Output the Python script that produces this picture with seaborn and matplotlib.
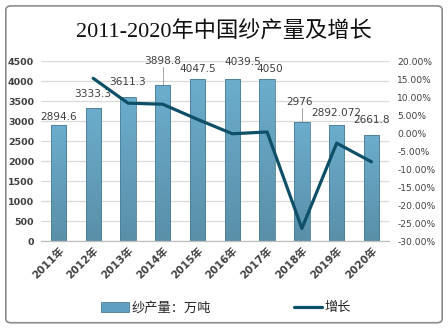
import numpy as np
import pandas as pd
import matplotlib
matplotlib.use("Agg")
import matplotlib.pyplot as plt
import seaborn as sns
from matplotlib.patches import FancyBboxPatch, Patch
from matplotlib.lines import Line2D
from matplotlib.colors import LinearSegmentedColormap
from matplotlib.ticker import FuncFormatter, MultipleLocator

years = ["2011年", "2012年", "2013年", "2014年", "2015年", "2016年", "2017年", "2018年", "2019年", "2020年"]
output = [2894.6, 3333.3, 3611.3, 3898.8, 4047.5, 4039.5, 4050, 2976, 2892.072, 2661.8]
output_labels = ["2894.6", "3333.3", "3611.3", "3898.8", "4047.5", "4039.5", "4050", "2976", "2892.072", "2661.8"]
growth_years = ["2012年", "2013年", "2014年", "2015年", "2016年", "2017年", "2018年", "2019年", "2020年"]
growth = [0.152, 0.083, 0.080, 0.038, -0.002, 0.003, -0.265, -0.028, -0.080]

title = "2011-2020年中国纱产量及增长"
bar_name = "纱产量：万吨"
line_name = "增长"

sns.set_theme(style="white")
plt.rcParams["font.family"] = ["DejaVu Sans", "Noto Sans CJK SC"]

fig = plt.figure(figsize=(4.48, 3.28), dpi=100)
fig.patch.set_facecolor("white")
ax = fig.add_axes([0.0915, 0.265, 0.7765, 0.549])

df = pd.DataFrame({"year": years, "output": output})
sns.barplot(data=df, x="year", y="output", ax=ax, color="#5f9fbf", width=0.44,
            edgecolor="#4a7f96", linewidth=0.6, zorder=2)

ax.set_ylim(0, 4500)
ax.set_xlim(-0.5, 9.5)

# vertical gradient fill for the bars
cmap = LinearSegmentedColormap.from_list("g", ["#5a8fa8", "#6cadcd"])
grad = np.linspace(0, 1, 64).reshape(-1, 1)
for bar in list(ax.patches):
    x0, y0 = bar.get_x(), bar.get_y()
    w, h = bar.get_width(), bar.get_height()
    im = ax.imshow(grad, extent=[x0, x0 + w, y0, y0 + h], origin="lower",
                   aspect="auto", cmap=cmap, zorder=2.1)
    im.set_clip_path(bar)
    bar.set_facecolor("none")
    bar.set_zorder(2.2)
ax.set_ylim(0, 4500)
ax.set_xlim(-0.5, 9.5)
ax.set_aspect("auto")

ax.yaxis.set_major_locator(MultipleLocator(500))
ax.grid(axis="y", color="#d9d9d9", linewidth=0.9, zorder=0)
ax.set_axisbelow(True)
for s in ["left", "right", "top"]:
    ax.spines[s].set_visible(False)
ax.spines["bottom"].set_color("#bfbfbf")
ax.spines["bottom"].set_linewidth(0.9)
ax.set_xlabel("")
ax.set_ylabel("")
ax.tick_params(axis="y", length=0, labelsize=6.8, labelcolor="#404040", pad=5)
ax.tick_params(axis="x", length=0, labelsize=7.6, labelcolor="#404040", pad=3)
for t in ax.get_yticklabels():
    t.set_fontweight("bold")
ax.set_xticks(range(len(years)))
ax.set_xticklabels(years, rotation=45, ha="right", rotation_mode="anchor", fontweight="bold")

# data labels (offsets in px: dx, dy above bar top)
offsets = [(0, 3), (0, 9), (0, 10), (0, 19), (0, 5), (10, 12), (3, 5), (-2, 15), (0, 7), (0, 10)]
for i, (v, lab) in enumerate(zip(output, output_labels)):
    dx, dy = offsets[i]
    ax.annotate(lab, (i, v), xytext=(dx, dy), textcoords="offset pixels",
                ha="center", va="bottom", fontsize=7.6, color="#404040", zorder=5)
    if dy > 14:
        ax.plot([i, i], [v, v + (dy - 1) * 4500 / 180], color="#a6a6a6", linewidth=0.7, zorder=1.5)

ax2 = ax.twinx()
sns.lineplot(x=growth_years, y=growth, ax=ax2, color="#0f5068", linewidth=2.3, zorder=3, sort=False)
ax2.set_ylim(-0.30, 0.20)
ax2.yaxis.set_major_locator(MultipleLocator(0.05))
ax2.yaxis.set_major_formatter(FuncFormatter(lambda v, p: f"{v*100:.2f}%"))
ax2.tick_params(axis="y", length=0, labelsize=6.6, labelcolor="#404040", pad=6)
for s in ["left", "right", "top", "bottom"]:
    ax2.spines[s].set_visible(False)
ax2.set_ylabel("")
ax2.grid(False)
ax2.set_xlim(-0.5, 9.5)

fig.text(0.5, 0.902, title, ha="center", va="center", fontsize=16, color="#111111",
         family=["Liberation Serif", "Noto Sans CJK SC"])

handles = [Patch(facecolor="#5f9fbf", edgecolor="#4a7f96", linewidth=0.6),
           Line2D([0], [0], color="#0f5068", linewidth=2.3)]
fig.legend(handles, [bar_name, line_name], loc="center", bbox_to_anchor=(0.505, 0.061),
           ncol=2, frameon=False, handlelength=2.1, handleheight=0.8,
           columnspacing=6.3, handletextpad=0.2, labelcolor="#262626",
           prop={"family": ["Noto Sans CJK SC"], "size": 9.5})

border = FancyBboxPatch((0.013, 0.016), 0.974, 0.966, boxstyle="round,pad=0,rounding_size=0.012",
                        transform=fig.transFigure, facecolor="none", edgecolor="#8c8c8c",
                        linewidth=1.2, zorder=10)
fig.patches.append(border)

fig.savefig("out.png", dpi=100)
